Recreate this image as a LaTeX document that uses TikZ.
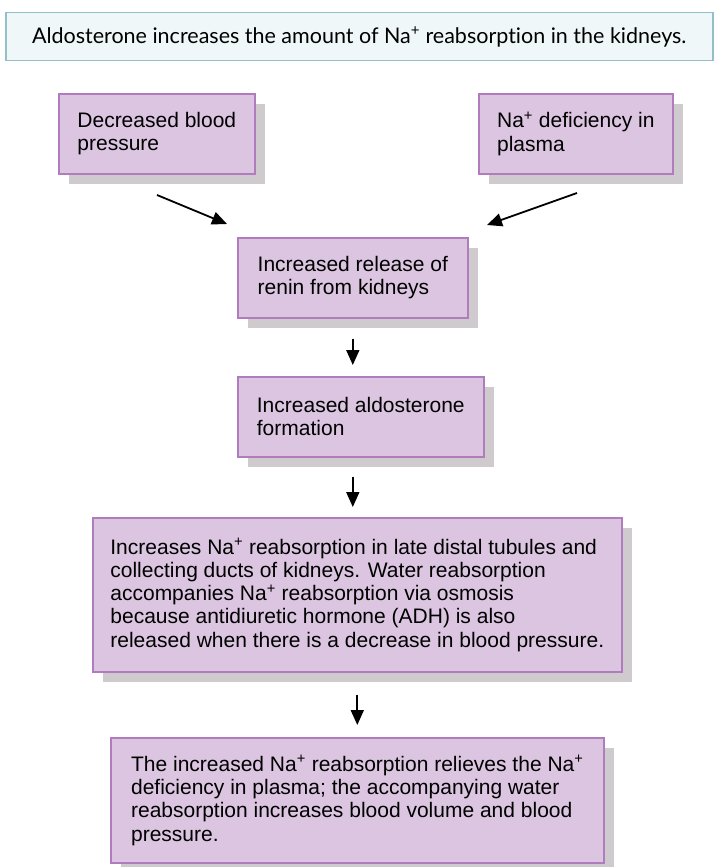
\documentclass[tikz,border=0pt]{standalone}
\usepackage{fontspec}
\setmainfont{Liberation Sans}
\newfontfamily\headfont[Ligatures=NoCommon]{Lato}
\usetikzlibrary{arrows.meta,shadows,calc}
\definecolor{boxfill}{RGB}{220,197,224}
\definecolor{boxline}{RGB}{176,124,190}
\definecolor{shadowgray}{RGB}{207,202,205}
\definecolor{headfill}{RGB}{240,247,249}
\definecolor{headline}{RGB}{146,192,198}
\tikzset{flowbox/.style={draw=boxline,line width=1.6pt,fill=boxfill,anchor=north west,
           align=left,inner sep=0pt,font=\fontsize{21}{23.3}\selectfont,
           drop shadow={shadow xshift=10pt,shadow yshift=-10pt,fill=shadowgray,opacity=1}}}
\tikzset{headbox/.style={draw=headline,line width=1.5pt,fill=headfill,anchor=north west,
           inner sep=0pt,font=\headfont\fontsize{21.5}{25}\selectfont},
         flow/.style={line width=1.8pt,-{Triangle[length=15pt,width=13pt]}}}

\begin{document}
\begin{tikzpicture}[x=1pt,y=-1pt]
    \useasboundingbox (0,0) rectangle (715,867);
    \node[headbox,minimum width=707pt,minimum height=48pt] (head) at (5,12)
      {Aldosterone increases the amount of Na\textsuperscript{+} reabsorption in the kidneys.};
    % causes
    \node[flowbox,minimum width=196pt,minimum height=80pt] (bp) at (58,93) {Decreased blood\\pressure};
    \node[flowbox,minimum width=194pt,minimum height=80pt] (na) at (478,93) {Na\textsuperscript{+} deficiency in\\plasma};
    % chain
    \node[flowbox,minimum width=230pt,minimum height=80pt] (renin) at (237,237) {Increased release of\\renin from kidneys};
    \node[flowbox,minimum width=246pt,minimum height=80pt] (aldo) at (237,376) {Increased aldosterone\\formation};
    \node[flowbox,minimum width=529pt,minimum height=154pt] (reabs) at (92,517)
      {Increases Na\textsuperscript{+} reabsorption in late distal tubules and\\
       collecting ducts of kidneys. Water reabsorption\\
       accompanies Na\textsuperscript{+} reabsorption via osmosis\\
       because antidiuretic hormone (ADH) is also\\
       released when there is a decrease in blood pressure.};
    \node[flowbox,minimum width=493pt,minimum height=125pt] (result) at (110,737)
      {The increased Na\textsuperscript{+} reabsorption relieves the Na\textsuperscript{+}\\
       deficiency in plasma; the accompanying water\\
       reabsorption increases blood volume and blood\\
       pressure.};
    % arrows
    \coordinate (bp-tail) at (157,195);
    \coordinate (bp-tip) at (227,224);
    \coordinate (na-tail) at (577,193);
    \coordinate (na-tip) at (487,225);
    \draw[flow] (bp-tail) -- (bp-tip);
    \draw[flow] (na-tail) -- (na-tip);
    \draw[flow] ($(renin.south)+(0,20)$) -- ($(renin.south |- aldo.north)+(0,-11)$);
    \draw[flow] ($(renin.south |- aldo.south)+(0,19)$) -- ($(renin.south |- reabs.north)+(0,-10)$);
    \draw[flow] ($(reabs.south)+(0,22)$) -- ($(result.north)+(0,-12)$);
\end{tikzpicture}
\end{document}
